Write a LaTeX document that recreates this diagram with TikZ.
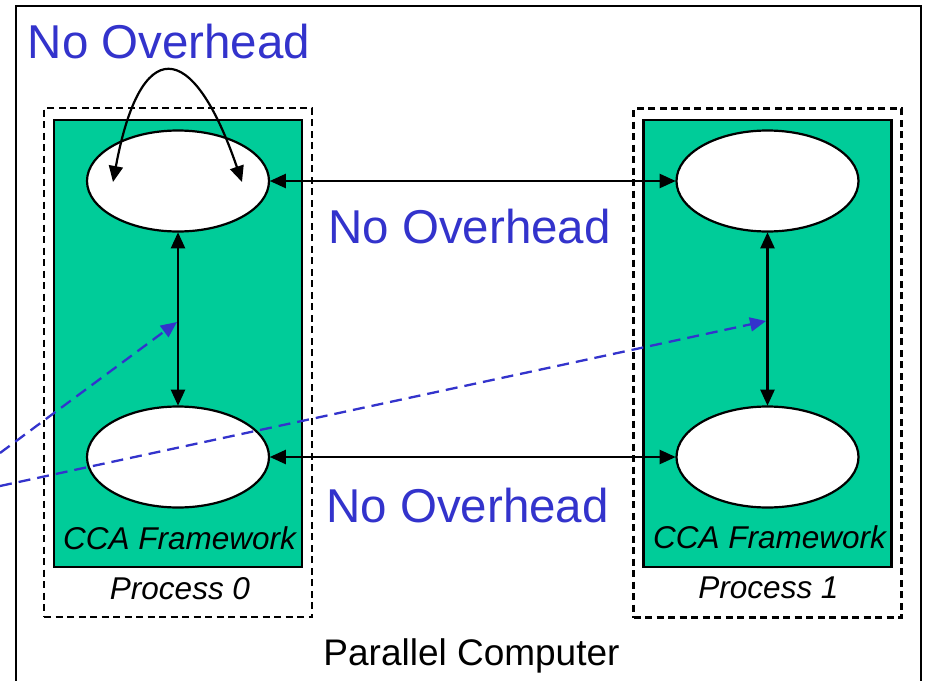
\documentclass[tikz,border=0pt]{standalone}
\usepackage{fontspec}
\setmainfont{Liberation Sans}
\usetikzlibrary{shapes.geometric,arrows.meta}
\definecolor{ccagreen}{RGB}{0,204,153}
\definecolor{ovblue}{RGB}{51,51,204}
\tikzset{
  procbox/.style={draw,line width=2.2pt,dash pattern=on 7pt off 4.5pt,minimum width=268pt,minimum height=509pt,inner sep=0pt,outer sep=0pt},
  fwbox/.style={draw,fill=ccagreen,line width=2.2pt,minimum width=248pt,minimum height=447pt,inner sep=0pt,outer sep=0pt},
  comp/.style={draw,fill=white,ellipse,line width=2.2pt,minimum width=182pt,minimum height=101pt,inner sep=0pt,outer sep=0.8pt},
  link/.style={line width=2.2pt,{Triangle[length=16pt,width=14pt]}-{Triangle[length=16pt,width=14pt]}},
  ptr/.style={ovblue,line width=2.3pt,dash pattern=on 12pt off 7pt,-{Triangle[length=16pt,width=14pt]}},
  ovtext/.style={text=ovblue,font=\fontsize{47.5}{50}\selectfont,anchor=base,inner sep=0pt},
  labtext/.style={font=\fontsize{31.5}{34}\selectfont\itshape,anchor=base,inner sep=0pt},
}
\begin{document}
\begin{tikzpicture}[x=1pt,y=-1pt]
\useasboundingbox (0,0) rectangle (926,680);
\clip (0,0) rectangle (926,680);
\fill[white] (0,0) rectangle (926,680);
% outer frame
\node[draw,line width=2.2pt,minimum width=905pt,minimum height=700pt,inner sep=0pt,outer sep=0pt,anchor=north west] (frame) at (16,6) {};
% process boxes
\node[procbox] (p0) at (178,362.5) {};
\node[procbox] (p1) at (767.5,363) {};
% framework boxes
\node[fwbox] (f0) at (178,343.5) {};
\node[fwbox] (f1) at (767.5,343.5) {};
% components
\node[comp] (a0) at (178,181) {};
\node[comp] (b0) at (178,457) {};
\node[comp] (a1) at (767.5,181) {};
\node[comp] (b1) at (767.5,457) {};
% links
\draw[link] (a0.east) -- (a1.west);
\draw[link] (b0.east) -- (b1.west);
\draw[link] (a0.south) -- (b0.north);
\draw[link] (a1.south) -- (b1.north);
% self loop
\coordinate (l1) at (113,182);
\coordinate (l2) at (242,182);
\draw[link] (l1) .. controls (140,36) and (192,36) .. (l2);
% pointers
\coordinate (s1) at (0,453);
\coordinate (m1) at (177,322);
\coordinate (s2) at (0,486);
\coordinate (m2) at (766,321);
\draw[ptr] (s1) -- (m1);
\draw[ptr] (s2) -- (m2);
% texts
\node[ovtext] (ov1) at (169,58) {No Overhead};
\node[ovtext] (ov2) at (469.5,243) {No Overhead};
\node[ovtext] (ov3) at (467.5,522) {No Overhead};
\node[labtext] (cf0) at (179.5,549) {CCA Framework};
\node[labtext] (cf1) at (769.5,548) {CCA Framework};
\node[labtext] (pr0) at (180,599) {Process 0};
\node[labtext] (pr1) at (768.5,598) {Process 1};
\node[font=\fontsize{37}{40}\selectfont,anchor=base,inner sep=0pt] (pc) at (471.5,665) {Parallel Computer};
\end{tikzpicture}
\end{document}
